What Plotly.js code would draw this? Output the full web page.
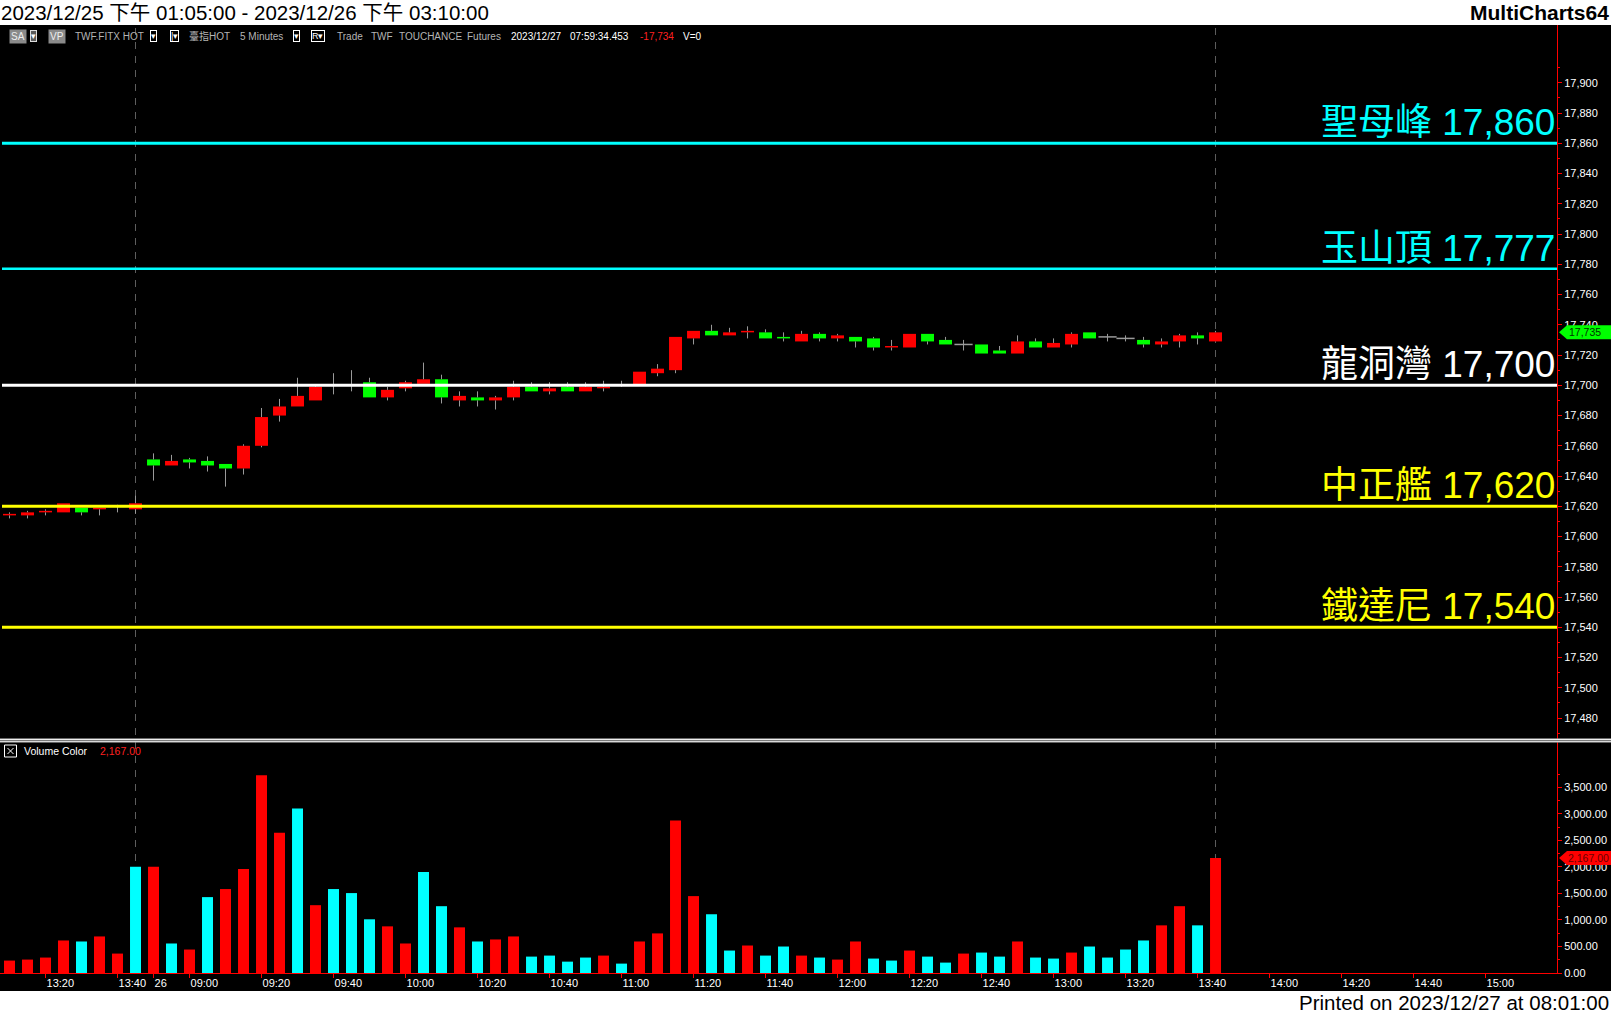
<!DOCTYPE html>
<html><head><meta charset="utf-8">
<script src="https://cdn.plot.ly/plotly-3.0.1.min.js"></script>
<style>html,body{margin:0;padding:0;background:#fff;overflow:hidden}#chart{width:1611px;height:1014px}</style>
</head><body><div id="chart"></div>
<script>
// ---------------- DATA ----------------
const barTimes = [
 "12/25 13:10","12/25 13:15","12/25 13:20","12/25 13:25","12/25 13:30","12/25 13:35","12/25 13:40","12/25 13:45",
 "12/26 08:50","12/26 08:55",
 "12/26 09:00","12/26 09:05","12/26 09:10","12/26 09:15","12/26 09:20","12/26 09:25","12/26 09:30","12/26 09:35","12/26 09:40","12/26 09:45","12/26 09:50","12/26 09:55",
 "12/26 10:00","12/26 10:05","12/26 10:10","12/26 10:15","12/26 10:20","12/26 10:25","12/26 10:30","12/26 10:35","12/26 10:40","12/26 10:45","12/26 10:50","12/26 10:55",
 "12/26 11:00","12/26 11:05","12/26 11:10","12/26 11:15","12/26 11:20","12/26 11:25","12/26 11:30","12/26 11:35","12/26 11:40","12/26 11:45","12/26 11:50","12/26 11:55",
 "12/26 12:00","12/26 12:05","12/26 12:10","12/26 12:15","12/26 12:20","12/26 12:25","12/26 12:30","12/26 12:35","12/26 12:40","12/26 12:45","12/26 12:50","12/26 12:55",
 "12/26 13:00","12/26 13:05","12/26 13:10","12/26 13:15","12/26 13:20","12/26 13:25","12/26 13:30","12/26 13:35","12/26 13:40","12/26 13:45"
];
const futureTimes = [
 "12/26 13:50","12/26 13:55","12/26 14:00","12/26 14:05","12/26 14:10","12/26 14:15","12/26 14:20","12/26 14:25","12/26 14:30",
 "12/26 14:35","12/26 14:40","12/26 14:45","12/26 14:50","12/26 14:55","12/26 15:00","12/26 15:05","12/26 15:10","12/26 15:15"
];
const openP = [17614,17614,17616,17616,17619,17618,17620,17618,
 17651,17647,17651,17650,17648,17645,17660,17680,17686,17690,17700,17700,
 17702,17692,17698,17701,17704,17690,17692,17690,17692,17699,
 17696,17699,17696,17698,17700,17700,17708,17710,17731,17736,
 17733,17735,17735,17732,17729,17734,17731,17732,17731,17725,
 17725,17734,17730,17727,17727,17723,17721,17729,17725,17727,
 17735,17732,17731,17730,17727,17729,17733,17729];
const highP = [17616,17617,17618,17622,17619,17619,17621,17627,
 17655,17654,17652,17653,17648,17661,17685,17691,17705,17700,17708,17710,
 17705,17699,17703,17715,17707,17696,17696,17693,17703,17702,
 17702,17702,17702,17703,17703,17709,17714,17732,17736,17740,
 17738,17739,17737,17735,17736,17735,17734,17732,17732,17730,
 17734,17734,17732,17730,17727,17726,17733,17731,17731,17735,
 17735,17734,17733,17732,17731,17734,17735,17736];
const lowP = [17612,17612,17614,17616,17614,17614,17616,17615,
 17637,17647,17645,17643,17633,17641,17659,17676,17686,17690,17694,17696,
 17692,17690,17696,17701,17688,17686,17686,17684,17690,17696,
 17694,17696,17696,17696,17699,17700,17706,17708,17727,17733,
 17733,17731,17731,17729,17729,17729,17729,17725,17723,17723,
 17725,17727,17727,17723,17721,17721,17721,17725,17725,17725,
 17731,17729,17729,17725,17725,17725,17727,17729];
const closeP = [17615,17616,17617,17622,17616,17619,17620,17622,
 17647,17650,17649,17647,17645,17660,17679,17686,17693,17699,17700,17700,
 17692,17697,17702,17704,17692,17693,17690,17692,17699,17696,
 17698,17696,17699,17699,17700,17709,17711,17732,17736,17733,
 17735,17736,17731,17731,17734,17731,17733,17729,17725,17726,
 17734,17729,17727,17727,17721,17721,17729,17725,17728,17734,
 17731,17732,17731,17727,17729,17733,17731,17735];
const volume = [234,253,291,613,594,689,366,2000,2000,556,
 442,1430,1582,1961,3727,2645,3101,1278,1582,1506,
 1012,879,556,1904,1259,860,594,632,689,309,
 328,214,291,328,177,594,746,2873,1449,1107,
 423,518,328,499,328,291,253,594,272,234,
 423,309,196,366,385,309,594,291,272,385,
 499,291,442,613,898,1259,898,2167];
const volUp = [1,1,1,1,0,1,1,0,1,0, 1,0,1,1,1,1,0,1,0,0, 0,1,1,0,0,1,0,1,1,0,
 0,0,0,1,0,1,1,1,1,0, 0,1,0,0,1,0,1,1,0,0, 1,0,0,1,0,0,1,0,0,1, 0,0,0,0,1,1,0,1];
const tickTimes = ["12/25 13:20","12/25 13:40","12/26 08:50","12/26 09:00","12/26 09:20","12/26 09:40","12/26 10:00",
 "12/26 10:20","12/26 10:40","12/26 11:00","12/26 11:20","12/26 11:40","12/26 12:00","12/26 12:20","12/26 12:40",
 "12/26 13:00","12/26 13:20","12/26 13:40","12/26 14:00","12/26 14:20","12/26 14:40","12/26 15:00"];
const tickText = ["13:20","13:40","26","09:00","09:20","09:40","10:00","10:20","10:40","11:00","11:20","11:40",
 "12:00","12:20","12:40","13:00","13:20","13:40","14:00","14:20","14:40","15:00"];
const priceTicks = [17480,17500,17520,17540,17560,17580,17600,17620,17640,17660,17680,17700,17720,17740,17760,17780,17800,17820,17840,17860,17880,17900];
const volTicks = [0,500,1000,1500,2000,2500,3000,3500];
const levelNames = ["聖母峰","玉山頂","龍洞灣","中正艦","鐵達尼"];
const levelValues = [17860,17777,17700,17620,17540];

// ---------------- STYLE ----------------
const levelColors = ["#00FFFF","#00FFFF","#FFFFFF","#FFFF00","#FFFF00"];
const levelWidths = [3,2.5,3,3,3];
const UP = "#FF0000", DOWN = "#00FF00", WICK = "#9a9a9a", VUP = "#FF0000", VDN = "#00FFFF", AXIS = "#FF0000";
const FONT = "Liberation Sans, Arial, Noto Sans CJK TC, sans-serif";
const W = 1611, H = 1014, plotR = 1557, plotT = 25, plotB = 973, plotH = plotB - plotT;
const px = v => v / plotR;
const py = v => (plotB - v) / plotH;

// ---------------- BUILD ----------------
const slots = barTimes.concat(futureTimes);
const xi = barTimes.map(t => slots.indexOf(t));
const tickVals = tickTimes.map(t => slots.indexOf(t));

const bx = [], bBase = [], bLen = [], bCol = [], dx = [], dy = [];
const wx = [], wy = [];
xi.forEach((x, i) => {
  const o = openP[i], c = closeP[i], top = Math.max(o, c), bot = Math.min(o, c);
  if (c !== o) { bx.push(x); bBase.push(bot); bLen.push(top - bot); bCol.push(c > o ? UP : DOWN); }
  else { dx.push(x); dy.push(c); }
  if (highP[i] > top) { wx.push(x, x, null); wy.push(top, highP[i], null); }
  if (lowP[i] < bot) { wx.push(x, x, null); wy.push(bot, lowP[i], null); }
});

const traces = [
  {type:"bar", x:bx, y:bLen, base:bBase, width:0.72, marker:{color:bCol, line:{width:0}}, xaxis:"x", yaxis:"y", hoverinfo:"skip"},
  {type:"scatter", mode:"lines", x:wx, y:wy, line:{color:WICK, width:1}, connectgaps:false, xaxis:"x", yaxis:"y", hoverinfo:"skip"},
  {type:"scatter", mode:"markers", x:dx, y:dy, marker:{symbol:"line-ew", size:13, line:{color:WICK, width:1.5}}, xaxis:"x", yaxis:"y", hoverinfo:"skip"},
  {type:"bar", x:xi, y:volume, width:0.61, marker:{color:volUp.map(u => u ? VUP : VDN), line:{width:0}}, xaxis:"x", yaxis:"y2", hoverinfo:"skip"}
];

// session separators (last bar of each trading date)
const shapes = [];
barTimes.forEach((t, i) => {
  if (i === barTimes.length - 1 || barTimes[i+1].slice(0,5) !== t.slice(0,5)) {
    shapes.push({type:"line", xref:"x", yref:"paper", x0:xi[i], x1:xi[i], y0:0, y1:1, layer:"below",
      line:{color:"#5e5e5e", width:1, dash:"7px,7px"}});
  }
});
levelValues.forEach((v, i) => {
  shapes.push({type:"line", xref:"paper", yref:"y", x0:px(2), x1:1, y0:v, y1:v, layer:"above",
    line:{color:levelColors[i], width:levelWidths[i]}});
});
// header / footer strips
shapes.push({type:"rect", xref:"paper", yref:"paper", x0:0, x1:px(W), y0:py(plotT), y1:py(0), fillcolor:"#FFFFFF", line:{width:0}, layer:"above"});
shapes.push({type:"rect", xref:"paper", yref:"paper", x0:0, x1:px(W), y0:py(H), y1:py(991), fillcolor:"#FFFFFF", line:{width:0}, layer:"above"});
// pane separator
shapes.push({type:"rect", xref:"paper", yref:"paper", x0:0, x1:px(W), y0:py(742.5), y1:py(738.5), fillcolor:"#7a7a7a", line:{width:0}, layer:"above"});
shapes.push({type:"line", xref:"paper", yref:"paper", x0:0, x1:px(W), y0:py(739.3), y1:py(739.3), line:{color:"#eeeeee", width:1.2}, layer:"above"});
shapes.push({type:"line", xref:"paper", yref:"paper", x0:0, x1:px(W), y0:py(741.7), y1:py(741.7), line:{color:"#d8d8d8", width:1.2}, layer:"above"});
// volume pane close box
shapes.push({type:"rect", xref:"paper", yref:"paper", x0:px(4.5), x1:px(16.5), y0:py(757), y1:py(745), line:{color:"#ffffff", width:1}, fillcolor:"rgba(0,0,0,0)", layer:"above"});
shapes.push({type:"line", xref:"paper", yref:"paper", x0:px(7.5), x1:px(13.5), y0:py(754), y1:py(748), line:{color:"#ffffff", width:1}, layer:"above"});
shapes.push({type:"line", xref:"paper", yref:"paper", x0:px(7.5), x1:px(13.5), y0:py(748), y1:py(754), line:{color:"#ffffff", width:1}, layer:"above"});
// last price / last volume markers
const lastClose = closeP[closeP.length-1], lastVol = volume[volume.length-1];
shapes.push({type:"path", xref:"paper", xsizemode:"pixel", xanchor:1, yref:"y", ysizemode:"pixel", yanchor:lastClose,
  path:"M 2 0 L 10 7 L 54 7 L 54 -7 L 10 -7 Z", fillcolor:"#00FF00", line:{width:0}, layer:"above"});
shapes.push({type:"path", xref:"paper", xsizemode:"pixel", xanchor:1, yref:"y2", ysizemode:"pixel", yanchor:lastVol,
  path:"M 2 0 L 10 7 L 54 7 L 54 -7 L 10 -7 Z", fillcolor:"#FF0000", line:{width:0}, layer:"above"});

const annotations = [];
levelValues.forEach((v, i) => {
  annotations.push({xref:"paper", yref:"y", x:1, y:v, xanchor:"right", yanchor:"bottom", xshift:0, yshift:-2,
    text:levelNames[i] + " " + v.toLocaleString("en-US"), showarrow:false,
    font:{family:FONT, size:37, color:levelColors[i]}});
});
annotations.push({xref:"paper", yref:"y", x:1, y:lastClose, xanchor:"left", yanchor:"middle", xshift:10, showarrow:false,
  text:lastClose.toLocaleString("en-US"), font:{family:FONT, size:10.5, color:"#003300"}});
annotations.push({xref:"paper", yref:"y2", x:1, y:lastVol, xanchor:"left", yanchor:"middle", xshift:9, showarrow:false,
  text:lastVol.toLocaleString("en-US", {minimumFractionDigits:2}), font:{family:FONT, size:10.5, color:"#6a0000"}});

function txt(x, y, text, color, size, opts) {
  annotations.push(Object.assign({xref:"paper", yref:"paper", x:px(x), y:py(y), xanchor:"left", yanchor:"middle",
    showarrow:false, text:text, font:{family:FONT, size:size, color:color}}, opts || {}));
}
// header / footer
txt(-1, 12.5, "2023/12/25 下午 01:05:00 - 2023/12/26 下午 03:10:00", "#000000", 20.5);
txt(W, 12.5, "<b>MultiCharts64</b>", "#000000", 21, {xanchor:"right"});
txt(W, 1002, "Printed on 2023/12/27 at 08:01:00", "#000000", 20.5, {xanchor:"right"});
// price pane toolbar
const G = "#b4b4b4";
txt(9, 36, "SA", "#eeeeee", 10, {bgcolor:"#8a8a8a", borderpad:1});
txt(30, 36, "▾", "#ffffff", 9, {bgcolor:"#5a5a5a", bordercolor:"#dddddd", borderwidth:1, borderpad:0});
txt(48, 36, "VP", "#eeeeee", 10, {bgcolor:"#8a8a8a", borderpad:1});
txt(73, 36, "TWF.FITX HOT", G, 10);
txt(150, 36, "▾", "#ffffff", 9, {bordercolor:"#ffffff", borderwidth:1, borderpad:0});
txt(170, 36, "|▾", "#ffffff", 9, {bordercolor:"#ffffff", borderwidth:1, borderpad:0});
txt(187, 36, "臺指HOT", G, 10);
txt(238, 36, "5 Minutes", G, 10);
txt(293, 36, "▾", "#ffffff", 9, {bordercolor:"#ffffff", borderwidth:1, borderpad:0});
txt(311, 36, "R▾", "#ffffff", 9, {bordercolor:"#ffffff", borderwidth:1, borderpad:0});
txt(335, 36, "Trade", G, 10);
txt(369, 36, "TWF", G, 10);
txt(397, 36, "TOUCHANCE", G, 10);
txt(465, 36, "Futures", G, 10);
txt(509, 36, "2023/12/27", "#ffffff", 10);
txt(568, 36, "07:59:34.453", "#ffffff", 10);
txt(638, 36, "-" + (17734).toLocaleString("en-US"), "#ff2020", 10);
txt(681, 36, "V=0", "#ffffff", 10);
// volume pane header
txt(22, 751, "Volume Color", "#ffffff", 10.5);
txt(98, 751, lastVol.toLocaleString("en-US", {minimumFractionDigits:2}), "#ff2020", 10.5);

const tickFont = {family:FONT, size:11, color:"#ffffff"};
const layout = {
  width:W, height:H,
  margin:{l:0, r:W-plotR, t:plotT, b:H-plotB, pad:0},
  paper_bgcolor:"#000000", plot_bgcolor:"#000000",
  showlegend:false, barmode:"overlay", hovermode:false,
  xaxis:{range:[-0.528, 85.97], anchor:"y2", tickmode:"array", tickvals:tickVals, ticktext:tickText,
    ticks:"outside", ticklen:4, tickcolor:AXIS, showline:true, linecolor:AXIS, linewidth:1,
    showgrid:false, zeroline:false, tickfont:tickFont, ticklabelposition:"outside right", fixedrange:true},
  yaxis:{domain:[py(740), 1], range:[17465.5, 17938.2], side:"right", anchor:"x",
    tickmode:"array", tickvals:priceTicks, tickformat:",d",
    ticks:"outside", ticklen:4, tickcolor:AXIS, showline:true, linecolor:AXIS, linewidth:1,
    minor:{tickmode:"array", tickvals:priceTicks.map(v => v - 10).concat([priceTicks[priceTicks.length-1] + 10]), ticks:"outside", ticklen:2, tickcolor:AXIS, showgrid:false},
    showgrid:false, zeroline:false, tickfont:tickFont, fixedrange:true},
  yaxis2:{domain:[0, py(742)], range:[0, 4353], side:"right", anchor:"x",
    tickmode:"array", tickvals:volTicks, tickformat:",.2f",
    ticks:"outside", ticklen:4, tickcolor:AXIS, showline:true, linecolor:AXIS, linewidth:1,
    minor:{tickmode:"array", tickvals:volTicks.map(v => v + 250), ticks:"outside", ticklen:2, tickcolor:AXIS, showgrid:false},
    showgrid:false, zeroline:false, tickfont:tickFont, fixedrange:true},
  shapes:shapes, annotations:annotations
};
Plotly.newPlot("chart", traces, layout, {displayModeBar:false, staticPlot:true});
</script></body></html>
